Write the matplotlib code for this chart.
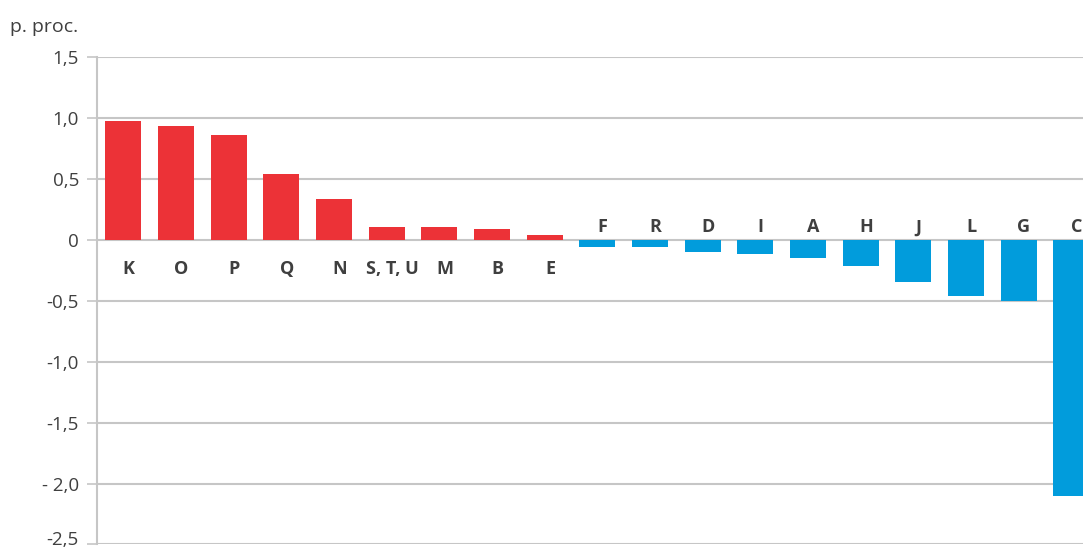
import numpy as np
import matplotlib
matplotlib.use("Agg")
import matplotlib.pyplot as plt
from matplotlib.transforms import ScaledTranslation

plt.rcParams['font.family'] = ['Open Sans', 'DejaVu Sans']

# sekcje i zmiana (p. proc.)
kategorie = ["K", "O", "P", "Q", "N", "S, T, U", "M", "B", "E",
             "F", "R", "D", "I", "A", "H", "J", "L", "G", "C"]
wartosci = [0.97, 0.93, 0.86, 0.54, 0.33, 0.10, 0.10, 0.09, 0.04,
            -0.06, -0.06, -0.10, -0.12, -0.15, -0.22, -0.35, -0.46, -0.50, -2.10]
yticks = [1.5, 1.0, 0.5, 0.0, -0.5, -1.0, -1.5, -2.0, -2.5]
ytick_labels = ["1,5", "1,0", "0,5", "0", "-0,5", "-1,0", "-1,5", "- 2,0", "-2,5"]

czerwony = "#ec3237"
niebieski = "#019cdc"
szary = "#c6c6c6"
tekst = "#3f3f3f"

fig = plt.figure(figsize=(10.83, 5.52), dpi=100)
# os wychodzi poza prawa krawedz (slupek C jest uciety jak w oryginale)
ax = fig.add_axes([0.0896, 0.0136, 0.924, 0.8837])

x = np.arange(len(kategorie))
kolory = [czerwony if v >= 0 else niebieski for v in wartosci]
ax.bar(x, wartosci, width=0.68, color=kolory, zorder=3)

ax.set_xlim(-0.5, len(kategorie) - 0.5)
ax.set_ylim(-2.5, 1.5)
ax.set_yticks(yticks)
ax.set_yticklabels(ytick_labels, fontsize=13.5, color=tekst)
ax.set_xticks([])
ax.grid(axis='y', color=szary, linewidth=1.5, zorder=0)
ax.tick_params(axis='y', length=7, width=1.2, color=szary, pad=6)

# ostatnia etykieta lekko w gore, zeby zmiescila sie w obrazku
ostatnia = ax.get_yticklabels()[-1]
ostatnia.set_transform(ostatnia.get_transform() + ScaledTranslation(0, 5 / 72, fig.dpi_scale_trans))

for s in ["top", "right", "bottom"]:
    ax.spines[s].set_visible(False)
ax.spines["left"].set_color(szary)
ax.spines["left"].set_linewidth(1.5)

# etykiety kategorii przy osi zerowej
for xi, v, k in zip(x, wartosci, kategorie):
    if v >= 0:
        ax.text(xi + 0.1, -0.24, k, ha='center', va='center', fontsize=13,
                fontweight='bold', color=tekst)
    else:
        ax.text(xi + 0.1, 0.1, k, ha='center', va='center', fontsize=13,
                fontweight='bold', color=tekst)

fig.text(0.009, 0.951, "p. proc.", fontsize=14, color=tekst, ha='left', va='center')

plt.savefig("out.png", dpi=100)
plt.close()
